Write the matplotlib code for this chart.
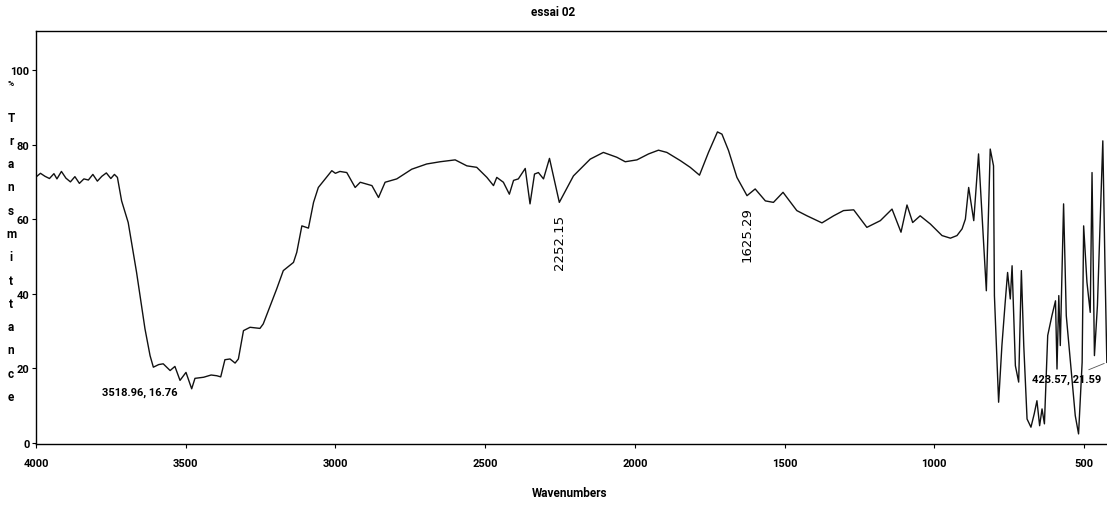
import matplotlib
matplotlib.use("Agg")
import matplotlib.pyplot as plt

# FTIR spectrum, essai 02
wavenumber = [
    4000, 3985, 3970, 3955, 3940, 3930, 3915, 3900, 3885, 3870, 3855, 3840,
    3825, 3810, 3795, 3780, 3765, 3750, 3738, 3728,
    3714, 3692, 3664, 3636, 3619, 3608, 3590, 3575, 3552, 3536, 3518.96,
    3499, 3480, 3469, 3440, 3415, 3396, 3383, 3369, 3352, 3335, 3324, 3307,
    3285, 3252, 3241, 3196, 3174, 3140, 3129, 3112, 3090, 3073, 3057, 3034,
    3012, 3000, 2985, 2962, 2934, 2917, 2878, 2856, 2834, 2795, 2745, 2695,
    2650, 2600, 2561, 2528, 2494, 2472, 2461, 2439, 2419, 2405, 2389, 2366,
    2350, 2335, 2322, 2305, 2285, 2252.15, 2205, 2149, 2105, 2060, 2032, 1993,
    1954, 1921, 1893, 1848, 1815, 1784, 1754, 1724, 1709, 1687, 1659, 1625.29,
    1598, 1564, 1537, 1505, 1459, 1425, 1375, 1336, 1303, 1269, 1225, 1180,
    1141, 1111, 1091, 1072, 1047, 1013, 974, 946, 924, 907, 896, 885, 868,
    852, 826, 813, 802, 799, 785, 774, 763, 755, 746, 740, 729, 718, 709, 701,
    690, 677, 666, 657, 648, 640, 632, 621, 607, 595, 590, 584, 579, 568, 559,
    545, 529, 518, 506, 501, 490, 479, 473, 465, 455, 444, 437, 430, 423.57,
]
transmittance = [
    71.3, 72.3, 71.5, 70.9, 72.2, 70.8, 72.8, 71.0, 70.0, 71.4, 69.6, 70.8,
    70.5, 72.0, 70.2, 71.5, 72.4, 70.9, 72.0, 71.2,
    64.9, 59.1, 45.7, 30.6, 23.4, 20.3, 21.0, 21.2, 19.4, 20.5, 16.76,
    18.9, 14.5, 17.3, 17.6, 18.2, 18.0, 17.7, 22.3, 22.5, 21.4, 22.5, 30.1,
    31.0, 30.7, 31.9, 41.3, 46.2, 48.4, 51.1, 58.2, 57.6, 64.5, 68.5, 70.8,
    73.0, 72.3, 72.8, 72.5, 68.5, 69.9, 69.0, 65.8, 69.9, 70.8, 73.4, 74.8,
    75.4, 75.9, 74.3, 73.9, 71.2, 69.0, 71.2, 69.9, 66.7, 70.4, 70.8, 73.6,
    64.1, 72.1, 72.5, 70.8, 76.3, 64.5, 71.6, 76.1, 77.9, 76.6, 75.4, 75.9,
    77.5, 78.5, 77.9, 75.7, 73.9, 71.8, 77.9, 83.4, 82.8, 78.4, 71.2, 66.3,
    68.1, 64.9, 64.5, 67.2, 62.3, 60.9, 59.0, 60.9, 62.3, 62.5, 57.8, 59.6,
    62.7, 56.5, 63.8, 59.1, 60.9, 58.7, 55.6, 54.9, 55.6, 57.4, 60.0, 68.5, 59.6,
    77.5, 40.8, 78.8, 74.3, 39.5, 10.9, 26.1, 37.7, 45.7, 38.6, 47.5, 20.7, 16.3, 46.2, 26.1,
    6.4, 4.2, 7.8, 11.3, 4.6, 9.1, 5.1, 28.8, 34.1, 38.1, 19.8, 39.5, 26.1, 64.1, 34.1,
    21.6, 7.3, 2.4, 21.6, 58.2, 43.1, 35.0, 72.5, 23.4, 36.8, 63.6, 81.0, 48.4, 21.59,
]

peak_labels = ["3518.96, 16.76", "2252.15", "1625.29", "423.57, 21.59"]

# narrow bold face for axis text, plain face for the vertical peak marks
narrow = ["Liberation Sans Narrow", "DejaVu Sans Condensed", "Roboto", "DejaVu Sans"]
plt.rcParams["font.family"] = narrow

fig = plt.figure(figsize=(11.07, 5.06), dpi=100)
ax = fig.add_axes([0.0325, 0.1206, 0.9675, 0.8164])

ax.plot(wavenumber, transmittance, color="#111111", lw=1.0)

ax.set_xlim(4000, 423)
ax.set_ylim(-0.3, 110.5)
ax.set_xticks([4000, 3500, 3000, 2500, 2000, 1500, 1000, 500])
ax.set_yticks([0, 20, 40, 60, 80, 100])
ax.tick_params(direction="out", length=3, width=0.8, labelsize=8, pad=1.5)
ax.tick_params(axis="x", pad=7)
for lbl in ax.get_xticklabels() + ax.get_yticklabels():
    lbl.set_fontweight("bold")
ax.spines["right"].set_visible(False)
for s in ["left", "bottom", "top"]:
    ax.spines[s].set_linewidth(1.0)

# peak annotations
ax.text(3528, 15.2, peak_labels[0], ha="right", va="top", fontsize=8,
        fontweight="bold")
ax.text(2252.15, 61.4, peak_labels[1], rotation=90, ha="center", va="top",
        fontsize=9.5, family="DejaVu Sans")
ax.text(1625.29, 63.5, peak_labels[2], rotation=90, ha="center", va="top",
        fontsize=9.5, family="DejaVu Sans")
ax.annotate(peak_labels[3], xy=(423.57, 21.59), xytext=(442, 17.2),
            ha="right", va="center", fontsize=8, fontweight="bold",
            arrowprops=dict(arrowstyle="-", lw=0.6, color="#555555"))

fig.text(553 / 1107, 1 - 12 / 506, "essai 02", ha="center", va="center",
         fontsize=8.5, fontweight="bold")
fig.text(570 / 1107, 1 - 494 / 506, "Wavenumbers", ha="center", va="center",
         fontsize=8.5, fontweight="bold")

# stacked y-axis label
fig.text(11 / 1107, 1 - 84 / 506, "%", ha="center", va="center", fontsize=6,
         fontweight="bold")
for i, ch in enumerate("Transmittance"):
    fig.text(11 / 1107, 1 - (118 + i * 23.3) / 506, ch, ha="center",
             va="center", fontsize=8.5, fontweight="bold")

fig.savefig("out.png", dpi=100)
